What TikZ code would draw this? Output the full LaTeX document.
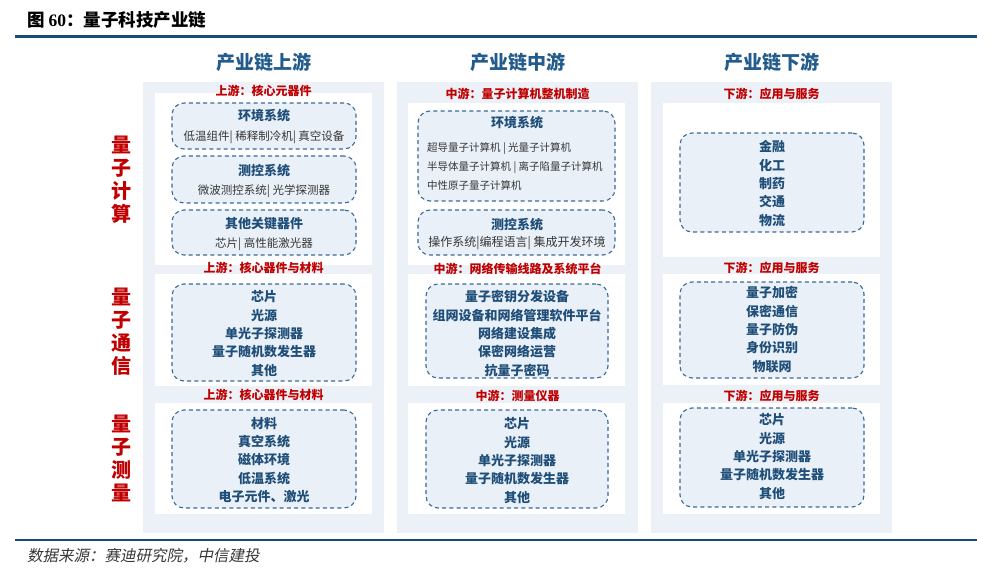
\documentclass[tikz,border=0pt]{standalone}
\usepackage{fontspec}
\setmainfont{Noto Sans CJK SC}
\newfontfamily\numfont{Liberation Serif}
\newfontfamily\srcfont{Noto Sans CJK SC}[FakeSlant=0.2]
\usetikzlibrary{positioning}

\definecolor{ruleblue}{RGB}{22,76,120}
\definecolor{txtblue}{RGB}{31,78,121}
\definecolor{headblue}{RGB}{35,92,140}
\definecolor{tierred}{RGB}{192,0,0}
\definecolor{panebg}{RGB}{236,241,248}
\definecolor{boxbg}{RGB}{233,240,248}
\definecolor{dashblue}{RGB}{58,106,152}
\definecolor{subgray}{RGB}{55,55,55}

\tikzset{
  colpane/.style={fill=panebg},
  whitepane/.style={fill=white},
  dashbox/.style={draw=dashblue,fill=boxbg,line width=1.1pt,
    dash pattern=on 4pt off 3.2pt,rounded corners=12pt,inner sep=0pt},
  tier/.style={text=tierred,font=\fontsize{12}{14}\selectfont\bfseries,inner sep=0pt},
  colhead/.style={text=headblue,font=\fontsize{19}{22}\selectfont\bfseries,inner sep=0pt},
  boxhead/.style={text=txtblue,font=\fontsize{13}{15}\selectfont\bfseries,inner sep=0pt},
  boxtext/.style={text=subgray,font=\fontsize{11.5}{14}\selectfont,inner sep=0pt},
  itemlist/.style={text=txtblue,font=\fontsize{13}{18.4}\selectfont\bfseries,
    align=center,inner sep=0pt},
  sidelabel/.style={text=tierred,font=\fontsize{20}{23}\selectfont\bfseries,
    align=center,inner sep=0pt},
}

\begin{document}
\begin{tikzpicture}[x=1pt,y=-1pt]
  \useasboundingbox (0,0) rectangle (997,575);

  % title and rules
  \node[anchor=west,inner sep=0pt,font=\fontsize{17.5}{20}\selectfont\bfseries]
    (title) at (27,20) {图 {\numfont 60}：量子科技产业链};
  \draw[ruleblue,line width=3pt] (15,37) -- (977,37);
  \draw[ruleblue,line width=2pt] (15,540) -- (977,540);
  \node[anchor=west,inner sep=0pt,text=subgray,font=\srcfont\fontsize{15.5}{18}\selectfont]
    (source) at (27,556) {数据来源：赛迪研究院，中信建投};

  % column panes
  \foreach \x in {143,397,651}
    \fill[colpane] (\x,82) rectangle ++(241,451);
  \foreach \xa/\ya/\xb/\yb in {155/93/372/265,155/274/372/386,155/403/372/514,
      408/103/625/265,408/274/625/386,408/403/625/514,
      663/103/880/257,663/274/880/385,663/403/880/514}
    \fill[whitepane] (\xa,\ya) rectangle (\xb,\yb);

  % column heads
  \foreach \cx/\part [count=\i] in {263.5/上游,517.5/中游,771.5/下游}
    \node[colhead] (head\i) at (\cx,62) {产业链\part};

  % row labels
  \node[sidelabel] (qcomp) at (121,179.5) {量\\子\\计\\算};
  \node[sidelabel] (qcomm) at (121,331.5) {量\\子\\通\\信};
  \node[sidelabel] (qmeas) at (121,458) {量\\子\\测\\量};

  % upstream
  \node[dashbox,minimum width=184pt,minimum height=46pt] (upenv) at (264,126) {};
  \node[dashbox,minimum width=184pt,minimum height=47pt] (upctrl) at (264,179.5) {};
  \node[dashbox,minimum width=184pt,minimum height=45pt] (upkey) at (264,232.5) {};
  \node[dashbox,minimum width=184pt,minimum height=97pt] (upcomm) at (264,332.5) {};
  \node[dashbox,minimum width=184pt,minimum height=98pt] (upmeas) at (264,459) {};
  \node[tier] (uptier1) at (263.5,91) {上游：核心元器件};
  \node[tier] (uptier2) at (263.5,268) {上游：核心器件与材料};
  \node[tier] (uptier3) at (263.5,395) {上游：核心器件与材料};
  \node[boxhead] (upenvh) at (264,116) {环境系统};
  \node[boxtext] (upenvt) at (264,137) {低温组件| 稀释制冷机| 真空设备};
  \node[boxhead] (upctrlh) at (264,171) {测控系统};
  \node[boxtext] (upctrlt) at (264,191) {微波测控系统| 光学探测器};
  \node[boxhead] (upkeyh) at (264,224) {其他关键器件};
  \node[boxtext] (upkeyt) at (264,244) {芯片| 高性能激光器};
  \node[itemlist] (upcommt) at (264,333.5)
    {芯片\\光源\\单光子探测器\\量子随机数发生器\\其他};
  \node[itemlist] (upmeast) at (264,460)
    {材料\\真空系统\\磁体环境\\低温系统\\电子元件、激光};

  % midstream
  \node[dashbox,minimum width=197pt,minimum height=90pt] (midenv) at (516.5,156) {};
  \node[dashbox,minimum width=197pt,minimum height=45pt] (midctrl) at (516.5,232.5) {};
  \node[dashbox,minimum width=182pt,minimum height=94pt] (midcomm) at (517,331) {};
  \node[dashbox,minimum width=182pt,minimum height=98pt] (midmeas) at (517,459) {};
  \node[tier] (midtier1) at (517.5,94) {中游：量子计算机整机制造};
  \node[tier] (midtier2) at (517.5,268.5) {中游：网络传输线路及系统平台};
  \node[tier] (midtier3) at (517.5,396) {中游：测量仪器};
  \node[boxhead] (midenvh) at (517,123) {环境系统};
  \node[boxtext,anchor=west,align=left,font=\fontsize{10.5}{19}\selectfont]
    (midenvt) at (427,166)
    {超导量子计算机 | 光量子计算机\\半导体量子计算机 | 离子陷量子计算机\\中性原子量子计算机};
  \node[boxhead] (midctrlh) at (517,225) {测控系统};
  \node[boxtext,font=\fontsize{12}{14}\selectfont] (midctrlt) at (517,243)
    {操作系统|编程语言| 集成开发环境};
  \node[itemlist] (midcommt) at (517,333.5)
    {量子密钥分发设备\\组网设备和网络管理软件平台\\网络建设集成\\保密网络运营\\抗量子密码};
  \node[itemlist] (midmeast) at (517,460.5)
    {芯片\\光源\\单光子探测器\\量子随机数发生器\\其他};

  % downstream
  \node[dashbox,minimum width=184pt,minimum height=99pt] (downcomp) at (772,182.5) {};
  \node[dashbox,minimum width=184pt,minimum height=96pt] (downcomm) at (772,330) {};
  \node[dashbox,minimum width=184pt,minimum height=99pt] (downmeas) at (772,457.5) {};
  \node[tier] (downtier1) at (771.5,93.5) {下游：应用与服务};
  \node[tier] (downtier2) at (771.5,268) {下游：应用与服务};
  \node[tier] (downtier3) at (771.5,396) {下游：应用与服务};
  \node[itemlist] (downcompt) at (772,183.5) {金融\\化工\\制药\\交通\\物流};
  \node[itemlist] (downcommt) at (772,329.5)
    {量子加密\\保密通信\\量子防伪\\身份识别\\物联网};
  \node[itemlist] (downmeast) at (772,456.5)
    {芯片\\光源\\单光子探测器\\量子随机数发生器\\其他};
\end{tikzpicture}
\end{document}
